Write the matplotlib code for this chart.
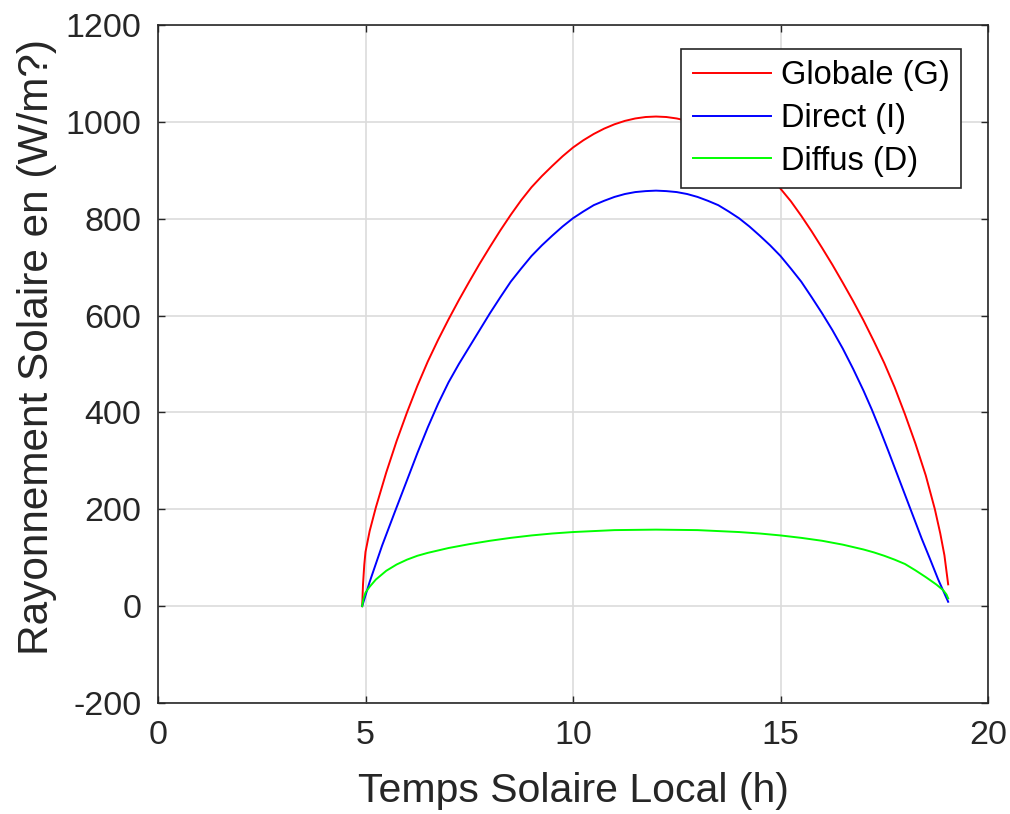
import numpy as np
import matplotlib
matplotlib.use("Agg")
import matplotlib.pyplot as plt

# values (time in h, irradiance in W/m2)
t_globale = [4.92, 4.94, 4.97, 5.0, 5.1, 5.25, 5.5, 5.75, 6.0, 6.25, 6.5, 6.75,
             7.0, 7.25, 7.5, 7.75, 8.0, 8.25, 8.5, 8.75, 9.0, 9.25, 9.5, 9.75,
             10.0, 10.25, 10.5, 10.75, 11.0, 11.25, 11.5, 11.75, 12.0,
             12.25, 12.5, 12.75, 13.0, 13.25, 13.5, 13.75, 14.0, 14.25, 14.5,
             14.75, 15.0, 15.25, 15.5, 15.75, 16.0, 16.25, 16.5, 16.75, 17.0,
             17.25, 17.5, 17.75, 18.0, 18.25, 18.5, 18.72, 18.85, 18.95, 19.04]
globale = [0, 45, 85, 112, 155, 204, 276, 341, 400, 455, 505, 550,
           592, 632, 670, 707, 742, 776, 808, 838, 865, 888, 909, 929,
           947, 962, 975, 986, 995, 1002, 1007, 1010, 1011,
           1010, 1007, 1002, 995, 986, 975, 962, 947, 929, 909,
           887, 862, 836, 806, 774, 740, 705, 668, 630, 590,
           547, 502, 452, 396, 336, 270, 200, 150, 105, 45]

t_direct = [4.92, 5.1, 5.4, 5.7, 6.0, 6.25, 6.5, 6.75, 7.0, 7.25, 7.5, 7.75,
            8.0, 8.25, 8.5, 8.75, 9.0, 9.25, 9.5, 9.75, 10.0, 10.25, 10.5,
            10.75, 11.0, 11.25, 11.5, 11.75, 12.0, 12.25, 12.5, 12.75, 13.0,
            13.25, 13.5, 13.75, 14.0, 14.25, 14.5, 14.75, 15.0, 15.25, 15.5,
            15.75, 16.0, 16.25, 16.5, 16.75, 17.0, 17.2, 17.4, 17.6, 17.8,
            18.0, 18.2, 18.4, 18.6, 18.8, 19.04]
direct = [0, 50, 125, 193, 260, 316, 369, 418, 462, 500, 535, 570,
          605, 638, 670, 697, 723, 745, 765, 784, 801, 815, 828,
          837, 845, 851, 855, 857, 858, 857, 855, 851, 845,
          837, 828, 815, 801, 784, 765, 745, 723, 697, 670,
          638, 605, 570, 532, 490, 445, 406, 364, 320, 275,
          230, 185, 140, 98, 55, 9]

t_diffus = [4.92, 4.95, 5.0, 5.1, 5.25, 5.5, 5.75, 6.0, 6.25, 6.5, 6.75, 7.0,
            7.5, 8.0, 8.5, 9.0, 9.5, 10.0, 11.0, 12.0, 13.0, 14.0, 14.5, 15.0,
            15.5, 16.0, 16.5, 17.0, 17.25, 17.5, 17.75, 18.0, 18.25, 18.5,
            18.75, 18.92, 19.0, 19.04]
diffus = [0, 15, 28, 40, 55, 73, 86, 96, 104, 110, 115, 120,
          128, 135, 141, 146, 150, 153, 157, 158, 157, 153, 150, 146,
          141, 135, 127, 117, 111, 104, 96, 87, 74, 60,
          45, 33, 24, 16]

plt.rcParams['font.family'] = ['Liberation Sans', 'DejaVu Sans']
plt.rcParams['axes.unicode_minus'] = False
txt = '#262626'

fig = plt.figure(figsize=(10.10, 8.14), dpi=100)
ax = fig.add_axes([158 / 1010, 1 - 703 / 814, 830 / 1010, 678 / 814])

ax.plot(t_globale, globale, color='#ff0000', lw=1.4, label='Globale (G)')
ax.plot(t_direct, direct, color='#0000ff', lw=1.4, label='Direct (I)')
ax.plot(t_diffus, diffus, color='#00ff00', lw=1.4, label='Diffus (D)')

ax.set_xlim(0, 20)
ax.set_ylim(-200, 1200)
ax.set_xticks(np.arange(0, 21, 5))
ax.set_yticks(np.arange(-200, 1201, 200))
ax.grid(True, color='#dcdcdc', lw=1.2)
ax.set_axisbelow(True)

ax.tick_params(direction='in', length=5, width=1, top=True, right=True,
               labelsize=24.5, colors=txt, pad=12)
for s in ax.spines.values():
    s.set_color(txt)
    s.set_linewidth(1.2)

ax.set_xlabel('Temps Solaire Local (h)', fontsize=29.5, color=txt, labelpad=15)
ax.set_ylabel('Rayonnement Solaire en (W/m?)', fontsize=30.5, color=txt, labelpad=6)
ax.yaxis.label.set_y(0.525)

leg = ax.legend(loc='upper right', bbox_to_anchor=(1 - 27 / 830, 1 - 24 / 678),
                fontsize=23.5, frameon=True, fancybox=False, handlelength=2.4,
                handletextpad=0.3, borderpad=0.35, labelspacing=0.36,
                borderaxespad=0)
leg.get_frame().set_edgecolor(txt)
leg.get_frame().set_linewidth(1.2)
leg.get_frame().set_alpha(1)

fig.savefig('out.png', dpi=100, facecolor='white')
